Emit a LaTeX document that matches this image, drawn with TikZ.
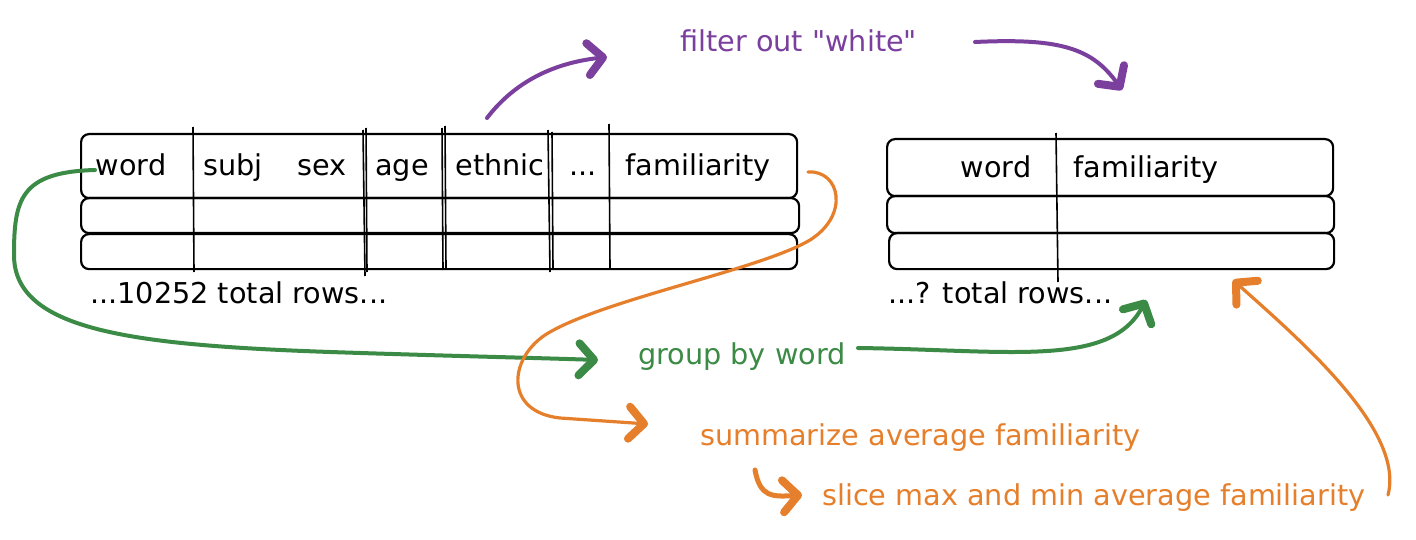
\documentclass[tikz,border=0pt]{standalone}
\usepackage{fontspec}
\setmainfont{DejaVu Sans}[Ligatures=TeXOff]
\usetikzlibrary{arrows.meta,calc}
\definecolor{pur}{HTML}{7B3F9E}
\definecolor{grn}{HTML}{3B8A45}
\definecolor{org}{HTML}{E67F2B}
\begin{document}
\begin{tikzpicture}[x=1pt,y=-1pt,
  txt/.style={font=\fontsize{28.7}{32}\selectfont, inner sep=0pt},
  rowbox/.style={draw, line width=2.2pt, rounded corners=8pt, anchor=north west, inner sep=0pt},
  col/.style={line width=1.6pt},
  arr/.style={line width=4pt, line cap=round, -{Straight Barb[length=15pt,width=32pt,line width=8pt,round]}},
]
\useasboundingbox[fill=white] (0,0) rectangle (1416,540);

% ---------- left table ----------
\node[rowbox, minimum width=716pt, minimum height=64pt] (L1) at (80,133) {};
\node[rowbox, minimum width=718pt, minimum height=35pt] (L2) at (80,197) {};
\node[rowbox, minimum width=716pt, minimum height=35pt] (L3) at (80,233) {};
\draw[col] (193,127) -- (194,272);
\draw[col] (363,130) -- (365,276);
\draw[col] (366,128) -- (367,272);
\draw[col] (442,128) -- (443,270);
\draw[col] (445,126) -- (446,268);
\draw[col] (548,130) -- (550,272);
\draw[col] (552,132) -- (553,268);
\draw[col] (609,124) -- (610,268);

\node[txt, anchor=base] (lw) at (131,176) {word};
\node[txt, anchor=base] (ls) at (233,176) {subj};
\node[txt, anchor=base] (lx) at (322,176) {sex};
\node[txt, anchor=base] (la) at (402,176) {age};
\node[txt, anchor=base] (le) at (500,176) {ethnic};
\node[txt, anchor=base] (ld) at (583,176) {...};
\node[txt, anchor=base] (lf) at (698,176) {familiarity};
\node[txt, anchor=base west] (lrows) at (90,303) {...10252 total rows...};

% ---------- right table ----------
\node[rowbox, minimum width=446pt, minimum height=57pt] (R1) at (886,138) {};
\node[rowbox, minimum width=447pt, minimum height=37pt] (R2) at (886,195) {};
\node[rowbox, minimum width=445pt, minimum height=36pt] (R3) at (888,232) {};
\draw[col] (1056,133) -- (1058,282);
\node[txt, anchor=base] (rw) at (996,178) {word};
\node[txt, anchor=base] (rf) at (1146,178) {familiarity};
\node[txt, anchor=base west] (rrows) at (888,303) {...? total rows...};

% ---------- labels ----------
\node[txt, anchor=base west, text=pur] (filt) at (680,52) {filter out "white"};
\node[txt, anchor=base west, text=grn] (grp) at (638,364) {group by word};
\node[txt, anchor=base west, text=org] (summ) at (700,445) {summarize average familiarity};
\node[txt, anchor=base west, text=org] (slice) at (822,505) {slice max and min average familiarity};

% ---------- connector ends ----------
\coordinate (p1s) at (487,118);
\coordinate (p1e) at (607,57);
\coordinate (p2s) at (975,42);
\coordinate (p2e) at (1122,90);
\coordinate (g1s) at (95,170);
\coordinate (g1e) at (598,360);
\coordinate (g2s) at (858,348);
\coordinate (g2e) at (1146,300);
\coordinate (o1s) at (808,172);
\coordinate (o1e) at (648,424);
\coordinate (o2s) at (755,470);
\coordinate (o2e) at (802,495);
\coordinate (o3s) at (1388,495);
\coordinate (o3e) at (1233,280);

% ---------- purple ----------
\draw[arr, pur] (p1s) .. controls (510,88) and (545,64) .. (p1e);
\draw[arr, pur] (p2s) .. controls (1060,38) and (1092,48) .. (p2e);

% ---------- green ----------
\draw[arr, grn] (g1s) .. controls (20,172) and (14,200) .. (14,255)
  .. controls (14,330) and (130,345) .. (330,352)
  .. controls (450,356) and (540,358) .. (g1e);
\draw[arr, grn] (g2s) .. controls (1010,350) and (1110,368) .. (g2e);

% ---------- orange ----------
\draw[arr, org, line width=3.2pt] (o1s) .. controls (840,170) and (850,215) .. (810,240)
  .. controls (760,270) and (600,300) .. (545,335)
  .. controls (508,360) and (505,412) .. (560,418) -- (o1e);
\draw[arr, org, line width=5pt] (o2s) .. controls (760,497) and (772,497) .. (o2e);
\draw[arr, org, line width=3.2pt] (o3s) .. controls (1405,430) and (1300,340) .. (o3e);
\end{tikzpicture}
\end{document}
